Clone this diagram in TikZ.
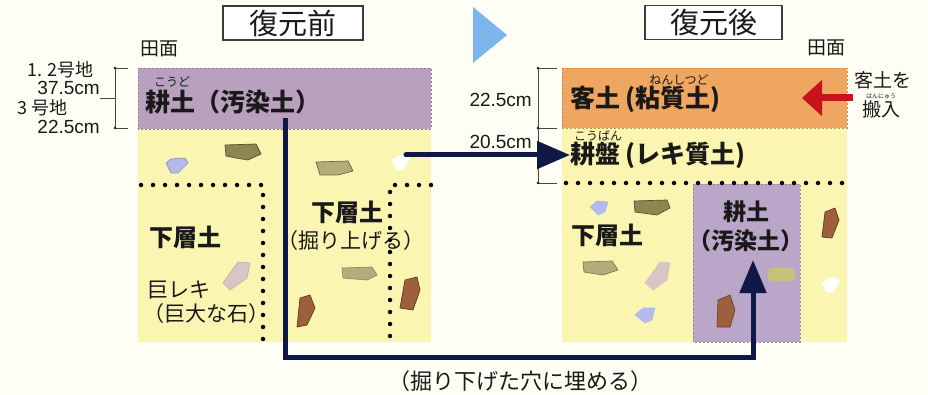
\documentclass[tikz,border=0pt]{standalone}
\usepackage{fontspec}
\newfontfamily\jp{Noto Sans CJK JP}
\newfontfamily\lat{Liberation Sans}
\usetikzlibrary{arrows.meta}

\definecolor{paper}{RGB}{255,254,244}
\definecolor{soil}{RGB}{251,245,178}
\definecolor{polluted}{RGB}{184,160,190}
\definecolor{pollutedB}{RGB}{186,166,200}
\definecolor{clay}{RGB}{238,166,96}
\definecolor{navy}{RGB}{16,24,72}
\definecolor{skyblue}{RGB}{122,182,234}
\definecolor{haul}{RGB}{200,18,30}
\definecolor{ink}{RGB}{25,25,25}
\definecolor{stblue}{RGB}{180,186,235}
\definecolor{stolive}{RGB}{140,134,80}
\definecolor{stoliveL}{RGB}{180,172,122}
\definecolor{stbrown}{RGB}{158,96,60}
\definecolor{stpink}{RGB}{216,198,196}
\definecolor{stgreen}{RGB}{200,194,120}

\tikzset{
  jfont/.style={font=\jp\fontsize{#1}{#1}\selectfont},
  label/.style={jfont=#1, text=ink, inner sep=0pt},
  depth/.style={font=\lat\fontsize{#1}{#1}\selectfont, text=ink, inner sep=0pt},
  blabel/.style={font=\jp\bfseries\fontsize{#1}{#1}\selectfont, text=ink, inner sep=0pt},
  ruby/.style={jfont=#1, text=ink, inner sep=0pt},
  titlebox/.style={draw=ink!85, line width=1.2pt, fill=white, inner sep=0pt,
    minimum height=34pt, font=\jp\fontsize{29}{29}\selectfont, text=ink},
  bracket/.style={draw=ink!80, line width=0.9pt},
  dots/.style={draw=black, line width=4.5pt, line cap=round, dash pattern=on 0pt off 12pt},
  bigarrow/.style={draw=navy, line width=5pt,
    -{Triangle[length=33pt,width=26pt]}},
  stone/.style={line width=0.7pt, line join=round},
}

\begin{document}
\begin{tikzpicture}[x=1pt,y=-1pt]
\useasboundingbox (0,0) rectangle (928,395);
\fill[paper] (0,0) rectangle (928,395);

% ---------- titles ----------
\node[titlebox, minimum width=140pt] (titleL) at (293,23) {復元前};
\node[titlebox, minimum width=137pt] (titleR) at (713.5,22.5) {復元後};
\fill[skyblue] (473,7) -- (507,35) -- (473,63) -- cycle;

% ---------- before: soil profile ----------
\fill[soil] (138,129) rectangle (431,342);
\fill[polluted] (138,68) rectangle (431,129);
\draw[polluted!80!black, line width=0.5pt, dash pattern=on 2pt off 2pt] (138,68) rectangle (431,129);

% stones (before)
\filldraw[stone, fill=stblue, draw=stblue!80!black] (166,163) -- (171,159) -- (185,158) -- (188,163) -- (178,173) -- (171,173) -- cycle;
\filldraw[stone, fill=stolive, draw=stolive!60!black] (225,145) -- (256,144) -- (261,154) -- (248,160) -- (236,158) -- (226,156) -- cycle;
\filldraw[stone, fill=stoliveL, draw=stoliveL!60!black] (316,162) -- (348,161) -- (353,171) -- (338,175) -- (320,175) -- cycle;
\filldraw[stone, fill=white, draw=white] (392,160) -- (400,155) -- (410,157) -- (404,168) -- (398,171) -- cycle;
\filldraw[stone, fill=stpink, draw=stpink!90!black] (223,283) -- (238,262) -- (250,263) -- (247,278) -- (230,290) -- cycle;
\filldraw[stone, fill=stoliveL, draw=stoliveL!80!black] (342,268) -- (372,267) -- (377,275) -- (367,280) -- (343,278) -- cycle;
\filldraw[stone, fill=stbrown, draw=stbrown!60!black] (300,298) -- (310,295) -- (315,308) -- (307,325) -- (297,327) -- cycle;
\filldraw[stone, fill=stbrown, draw=stbrown!60!black] (405,280) -- (417,277) -- (420,290) -- (413,310) -- (400,308) -- cycle;

% trench outline (dotted)
\draw[dots] (141,185) -- (263,185) -- (263,342);
\draw[dots] (431,185) -- (390,185) -- (390,342);

% ---------- after: soil profile ----------
\fill[soil] (562,128) rectangle (847,342);
\fill[clay] (562,68) rectangle (847,128);
\draw[clay!85!black, line width=0.5pt, dash pattern=on 2pt off 2pt] (562,68) rectangle (847,128);
\fill[pollutedB] (693,184) rectangle (800,342);
\draw[pollutedB!80!black, line width=0.5pt, dash pattern=on 2pt off 2pt] (693,184) rectangle (800,342);

% stones (after)
\filldraw[stone, fill=stblue, draw=stblue] (590,207) -- (597,201) -- (608,202) -- (605,212) -- (598,215) -- cycle;
\filldraw[stone, fill=stolive, draw=stolive!60!black] (634,201) -- (667,200) -- (670,208) -- (657,215) -- (635,212) -- cycle;
\filldraw[stone, fill=stoliveL, draw=stoliveL!70!black] (583,262) -- (612,261) -- (618,270) -- (603,275) -- (584,272) -- cycle;
\filldraw[stone, fill=stpink, draw=stpink] (645,283) -- (660,262) -- (670,263) -- (667,280) -- (653,290) -- cycle;
\filldraw[stone, fill=stblue, draw=stblue] (635,315) -- (643,308) -- (655,308) -- (652,320) -- (645,323) -- cycle;
\filldraw[stone, fill=stbrown, draw=stbrown!70!black] (718,300) -- (730,295) -- (735,310) -- (730,327) -- (717,327) -- cycle;
\fill[stgreen, rounded corners=4pt] (768,268) rectangle (795,281);
\filldraw[stone, fill=stbrown, draw=stbrown!60!black] (825,212) -- (835,208) -- (839,220) -- (832,238) -- (822,237) -- cycle;
\filldraw[stone, fill=white, draw=white] (822,283) -- (832,277) -- (840,280) -- (833,292) -- (827,292) -- cycle;

\draw[dots] (566,183) -- (847,183);

% ---------- depth brackets ----------
\draw[bracket] (128,68) -- (115,68) -- (115,128) -- (128,128);
\draw[bracket] (100,98) -- (115,98);
\fill[ink] (115,68) circle (1.3pt) (115,128) circle (1.3pt);
\draw[bracket] (557,68) -- (538,68) -- (538,183) -- (557,183);
\draw[bracket] (538,128) -- (557,128);
\fill[ink] (538,68) circle (1.3pt) (538,128) circle (1.3pt) (538,183) circle (1.3pt);

% ---------- labels ----------
\node[label=19] (surfL) at (159,49) {田面};
\node[label=19] (surfR) at (826,48) {田面};
\node[label=18, anchor=east] (lot12) at (94,70) {1. 2号地};
\node[depth=19, anchor=east] (dep375) at (100,88) {37.5cm};
\node[label=18, anchor=west] (lot3) at (17,108) {3 号地};
\node[depth=19, anchor=east] (dep225L) at (100,127) {22.5cm};
\node[depth=19, anchor=east] (dep225R) at (532,100) {22.5cm};
\node[depth=19, anchor=east] (dep205) at (532,142) {20.5cm};

\node[blabel=25, anchor=west] (topsoilL) at (145,102) {耕土（汚染土）};
\node[ruby=12] (rubyKoudo) at (172,82) {こうど};

\node[blabel=25, anchor=west] (claysoil) at (570,99) {客土 (粘質土)};
\node[ruby=12] (rubyNenshitsudo) at (679,80) {ねんしつど};
\node[blabel=25, anchor=west] (hardpan) at (570,155) {耕盤 (レキ質土)};
\node[ruby=12] (rubyKouban) at (598,136) {こうばん};

\node[label=19] (bringA) at (883,80) {客土を};
\node[label=19] (bringB) at (881,109) {搬入};
\node[ruby=6] (rubyHannyu) at (881,96) {はんにゅう};

\node[blabel=24] (subL) at (185,237) {下層土};
\node[blabel=24] (subM) at (347,212) {下層土};
\node[label=21] (digUp) at (351,241) {（掘り上げる）};
\node[label=21, anchor=west] (boulder) at (147,290) {巨レキ};
\node[label=21, anchor=west] (boulderB) at (143,314) {（巨大な石）};

\node[blabel=24] (subR) at (607,235) {下層土};
\node[blabel=23] (buriedA) at (746,212) {耕土};
\node[blabel=23] (buriedB) at (746,241) {（汚染土）};

\node[label=22] (buryNote) at (520,381) {（掘り下げた穴に埋める）};

% ---------- arrows ----------
\coordinate (digStart) at (285,118);
\coordinate (fillEnd) at (753,260);
\draw[bigarrow] (digStart) |- (520,357) -| (fillEnd);

\coordinate (liftStart) at (406,155);
\draw[draw=navy, line width=5pt, line cap=round, -{Triangle[length=33pt,width=27pt]}] (liftStart) -- (hardpan.west |- liftStart);

\coordinate (haulStart) at (853,98);
\draw[draw=haul, line width=7pt, -{Triangle[length=20pt,width=35pt]}] (haulStart) -- (802,98);
\end{tikzpicture}
\end{document}
